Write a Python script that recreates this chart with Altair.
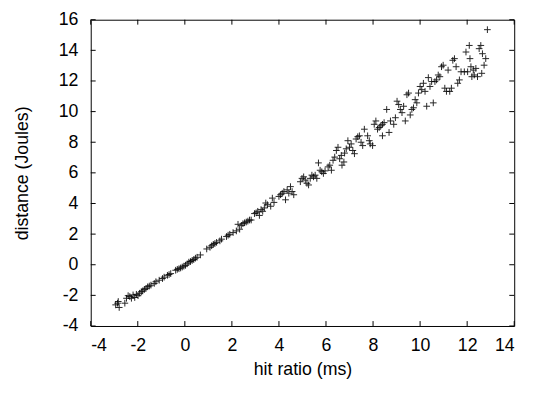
import altair as alt
import pandas as pd

hit_ratio = [-2.94, -2.86, -2.79, -2.83, -2.55, -2.48, -2.41, -2.34, -2.27, -2.20, -2.13, -2.06, -1.99, -1.92,
             -1.85, -1.79, -1.72, -1.65, -1.58, -1.51, -1.44, -1.30, -1.23, -1.09, -0.95, -0.88, -0.74, -0.67,
             -0.60, -0.39, -0.32, -0.25, -0.18, -0.11, -0.04, 0.03, 0.10, 0.17, 0.24, 0.31, 0.38, 0.45, 0.52,
             0.66, 0.93, 1.07, 1.14, 1.21, 1.28, 1.35, 1.49, 1.56, 1.77, 1.84, 1.91, 2.05, 2.19, 2.26, 2.33,
             2.40, 2.47, 2.54, 2.61, 2.68, 2.75, 2.82, 2.96, 3.03, 3.10, 3.17, 3.24, 3.31, 3.38, 3.44, 3.51,
             3.65, 3.72, 3.79, 4.00, 4.07, 4.14, 4.21, 4.28, 4.35, 4.42, 4.49, 4.56, 4.63, 4.91, 4.98, 5.05,
             5.12, 5.19, 5.26, 5.33, 5.40, 5.47, 5.54, 5.61, 5.68, 5.75, 5.82, 5.89, 5.96, 6.09, 6.16, 6.23,
             6.30, 6.37, 6.44, 6.51, 6.58, 6.65, 6.68, 6.76, 6.79, 6.86, 6.93, 7.00, 7.07, 7.14, 7.21, 7.28,
             7.35, 7.42, 7.49, 7.56, 7.63, 7.77, 7.84, 7.88, 7.98, 8.05, 8.12, 8.19, 8.26, 8.33, 8.40, 8.47,
             8.40, 8.58, 8.68, 8.74, 8.88, 8.95, 9.02, 9.09, 9.16, 9.23, 9.30, 9.37, 9.44, 9.51, 9.58, 9.65,
             9.72, 9.79, 9.86, 9.93, 10.00, 10.07, 10.14, 10.21, 10.28, 10.35, 10.42, 10.49, 10.56, 10.63,
             10.70, 10.77, 10.84, 10.91, 10.98, 11.05, 11.12, 11.19, 11.26, 11.33, 11.39, 11.46, 11.53, 11.60,
             11.67, 11.74, 11.88, 11.95, 12.02, 12.09, 12.12, 12.16, 12.20, 12.26, 12.30, 12.37, 12.44, 12.51,
             12.58, 12.62, 12.65, 12.72, 12.79, 12.86]

distance = [-2.62, -2.51, -2.79, -2.40, -2.51, -2.19, -2.02, -2.08, -2.19, -1.97, -2.14, -1.93, -2.02, -1.86,
            -1.76, -1.71, -1.61, -1.54, -1.44, -1.39, -1.33, -1.22, -1.11, -1.01, -0.90, -0.81, -0.69, -0.64,
            -0.58, -0.36, -0.30, -0.26, -0.21, -0.15, -0.09, -0.04, 0.06, 0.17, 0.21, 0.28, 0.34, 0.43, 0.49,
            0.64, 1.03, 1.14, 1.24, 1.33, 1.39, 1.46, 1.56, 1.67, 1.84, 1.93, 1.99, 2.10, 2.21, 2.64, 2.32,
            2.57, 2.68, 2.74, 2.79, 2.85, 2.92, 2.92, 3.34, 3.39, 3.49, 3.22, 3.60, 3.49, 3.71, 4.03, 3.92,
            3.82, 4.35, 4.07, 4.46, 4.57, 4.67, 4.78, 4.24, 4.89, 4.67, 5.10, 4.78, 4.57, 5.42, 5.64, 5.74,
            5.53, 5.32, 5.21, 5.64, 5.85, 5.74, 5.85, 5.64, 6.65, 6.17, 6.07, 5.96, 6.13, 6.39, 6.50, 6.17,
            6.82, 7.03, 7.46, 7.67, 6.92, 7.14, 6.50, 6.71, 7.29, 7.57, 8.10, 7.67, 7.89, 7.46, 7.25, 8.21,
            8.36, 8.42, 8.00, 7.78, 8.85, 8.42, 8.10, 7.89, 7.78, 9.17, 9.39, 8.85, 8.96, 9.07, 9.17, 9.28,
            8.42, 10.14, 8.64, 9.39, 9.17, 9.60, 10.68, 10.46, 10.14, 9.93, 10.35, 9.39, 11.10, 11.21, 9.78, 10.14,
            10.25, 10.78, 10.57, 11.21, 11.64, 11.43, 11.85, 11.32, 10.35, 12.22, 11.64, 11.96, 10.57, 11.96,
            12.07, 12.39, 12.28, 12.93, 13.03, 11.53, 11.32, 12.71, 11.32, 11.53, 13.35, 13.46, 12.93, 11.85,
            12.07, 12.60, 12.60, 13.89, 12.60, 14.32, 13.46, 12.93, 12.28, 12.71, 12.39, 12.82, 12.28, 14.11,
            14.32, 12.50, 13.78, 13.03, 13.46, 15.35]

x_ticks = [-4, -2, 0, 2, 4, 6, 8, 10, 12, 14]
y_ticks = [-4, -2, 0, 2, 4, 6, 8, 10, 12, 14, 16]

W, H = 430, 311
FONT = "Liberation Sans"

df = pd.DataFrame({"hit": hit_ratio, "dist": distance})
xt = pd.DataFrame({"t": x_ticks})
yt = pd.DataFrame({"t": y_ticks})

xscale = alt.Scale(domain=[-4, 14], nice=False, zero=False)
yscale = alt.Scale(domain=[-4, 16], nice=False, zero=False)

x_axis = alt.Axis(title="hit ratio (ms)", values=x_ticks, ticks=False, domain=False, grid=False,
                  labelOverlap=False, labelExpr="'' + datum.value", labelPadding=11, titlePadding=6)
y_axis = alt.Axis(title="distance (Joules)", values=y_ticks, ticks=False, domain=False, grid=False,
                  labelOverlap=False, labelExpr="'' + datum.value", labelPadding=13, titlePadding=27)

points = alt.Chart(df).mark_point(
    shape="M-1,0L1,0M0,-1L0,1", filled=False, stroke="black", strokeWidth=1, size=46, opacity=0.85
).encode(
    x=alt.X("hit:Q", scale=xscale, axis=x_axis),
    y=alt.Y("dist:Q", scale=yscale, axis=y_axis),
)

tb = alt.Chart(xt).mark_rule(color="black", strokeWidth=1).encode(
    x=alt.X("t:Q", scale=xscale, axis=x_axis), y=alt.value(H), y2=alt.value(H - 5))
tt = alt.Chart(xt).mark_rule(color="black", strokeWidth=1).encode(
    x=alt.X("t:Q", scale=xscale, axis=x_axis), y=alt.value(0), y2=alt.value(5))
tl = alt.Chart(yt).mark_rule(color="black", strokeWidth=1).encode(
    y=alt.Y("t:Q", scale=yscale, axis=y_axis), x=alt.value(0), x2=alt.value(5))
tr = alt.Chart(yt).mark_rule(color="black", strokeWidth=1).encode(
    y=alt.Y("t:Q", scale=yscale, axis=y_axis), x=alt.value(W), x2=alt.value(W - 5))

chart = alt.layer(points, tb, tt, tl, tr).properties(
    width=W, height=H,
    autosize=alt.AutoSizeParams(type="none"),
    padding={"left": 84, "top": 9, "right": 14, "bottom": 56},
).configure_view(
    stroke="black", strokeWidth=1
).configure_axis(
    labelFont=FONT, titleFont=FONT, labelFontSize=18, titleFontSize=18,
    labelColor="black", titleColor="black", titleFontWeight="normal", labelOverlap=False
)

chart.save("out.html", embed_options={"renderer": "svg", "actions": False})
